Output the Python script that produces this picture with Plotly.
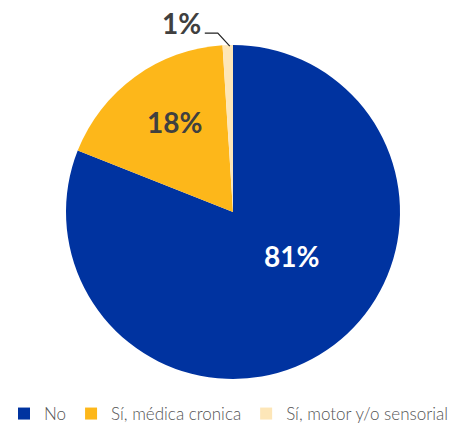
import math
import plotly.graph_objects as go

labels = ["No", "Sí, médica cronica", "Sí, motor y/o sensorial"]
values = [81, 18, 1]
colors = ["#0033A0", "#FDB71A", "#FDE6B8"]

W, H = 458, 432
# pie geometry in pixels
cx, cy, r = 233, 212, 167
dom_x = [(cx - r) / W, (cx + r) / W]
dom_y = [1 - (cy + r) / H, 1 - (cy - r) / H]

total = sum(values)
texts = [f"{round(v / total * 100)}%" for v in values]

fig = go.Figure(go.Pie(
    labels=labels, values=values, sort=False, direction="clockwise", rotation=0,
    marker=dict(colors=colors, line=dict(width=0)),
    textinfo="none",
    domain=dict(x=dom_x, y=dom_y), hoverinfo="label+percent",
))

def px(x, y):
    return x / W, 1 - y / H

# label placement (angle clockwise from top in degrees, radial fraction)
label_pos = [(127, 0.44), (327, 0.64)]
label_col = ["#FFFFFF", "#404040"]
for i, (a, f) in enumerate(label_pos):
    lx = cx + f * r * math.sin(math.radians(a))
    ly = cy - f * r * math.cos(math.radians(a))
    x, y = px(lx, ly)
    fig.add_annotation(x=x, y=y, xref="paper", yref="paper", text=f"<b>{texts[i]}</b>",
                       xanchor="center", yanchor="middle",
                       showarrow=False, font=dict(family="Lato", size=28, color=label_col[i]))

# leader line for small slice, computed from its mid angle
frac_mid = (values[0] + values[1] + values[2] / 2) / total
ang = frac_mid * 2 * math.pi
tipx = cx + (r - 1) * math.sin(ang) + 2
tipy = cy - (r - 1) * math.cos(ang)
elbx, elby = tipx - 12, tipy - 13
endx = elbx - 13

p1, p2, p3 = px(tipx, tipy), px(elbx, elby), px(endx, elby)
fig.add_shape(type="path", xref="paper", yref="paper",
              path=f"M {p1[0]} {p1[1]} L {p2[0]} {p2[1]} L {p3[0]} {p3[1]}",
              line=dict(color="#222222", width=1.2))
tx, ty = px(endx - 23, elby - 10)
fig.add_annotation(x=tx, y=ty, xref="paper", yref="paper", text=f"<b>{texts[2]}</b>",
                   xanchor="center", yanchor="middle",
                   showarrow=False, font=dict(family="Lato", size=28, color="#404040"))

fig.update_layout(
    width=W, height=H, margin=dict(l=0, r=0, t=0, b=0),
    paper_bgcolor="white", plot_bgcolor="white",
    font=dict(family="Lato"),
    showlegend=True,
    legend=dict(orientation="h", x=0.5, xanchor="center", y=0.0, yanchor="bottom",
                font=dict(family="Lato", size=17, color="#555555", weight=300),
                itemwidth=30, traceorder="normal"),
)
fig.write_html("out.html", config={"displayModeBar": False},
               post_script="document.body.style.margin='0';")
